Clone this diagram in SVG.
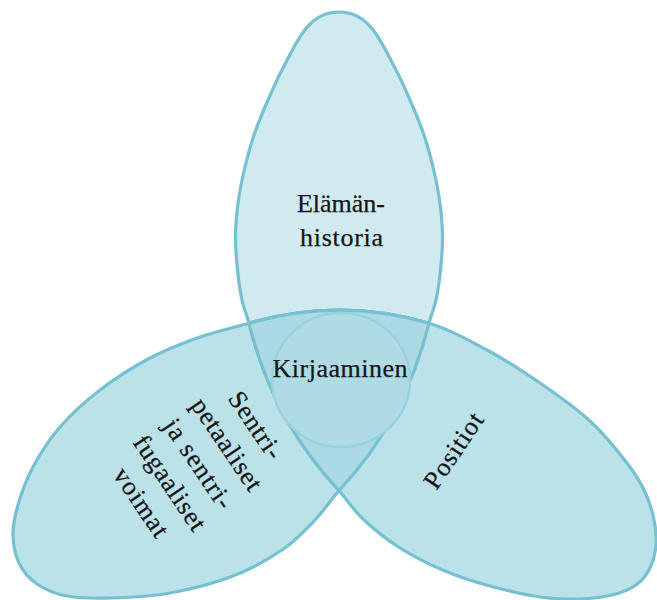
<svg xmlns="http://www.w3.org/2000/svg" width="657" height="600" viewBox="0 0 657 600">
  <style>
    .lobe { stroke: #76c0d2; stroke-width: 3.2; stroke-linejoin: round; }
    .top { fill: #d0eaf0; }
    .low { fill: #bbe1e9; }
    .core { fill: #abd9e4; stroke: #76c0d2; stroke-width: 3.2; stroke-linejoin: round; }
    .hub { fill: #afdbe5; stroke: #9ad1de; stroke-width: 2.4; }
    .lbl { font-family: "Liberation Serif", "Times New Roman", serif; font-size: 26px; fill: #141414; stroke: #141414; stroke-width: 0.25; text-anchor: middle; }
  </style>

  <rect x="0" y="0" width="657" height="600" fill="#ffffff"/>

  <!-- Three lobes sharing the corners (249,323.2) (429,323.2) (339,490.6);
       between the corners each lobe follows the same elliptical arcs. -->
  <g id="elamanhistoria">
    <path class="lobe top" d="M 429,323.2 C 430.9,315.3 434.1,308.9 436,300 C 437.9,291.1 439.4,280.8 440.5,270 C 441.6,259.2 442.7,246.7 442.5,235 C 442.3,223.3 441.1,211.3 439.5,200 C 437.9,188.7 435.6,177.8 433,167 C 430.4,156.2 427.8,146.2 424,135 C 420.2,123.8 414.7,110.8 410,100 C 405.3,89.2 400.7,78.7 396,70 C 381.75,43.6 371,12 339,12 C 307,12 296.25,43.6 282,70 C 277.3,78.7 272.7,89.2 268,100 C 263.3,110.8 257.8,123.8 254,135 C 250.2,146.2 247.6,156.2 245,167 C 242.4,177.8 240.1,188.7 238.5,200 C 236.9,211.3 235.7,223.3 235.5,235 C 235.3,246.7 236.4,259.2 237.5,270 C 238.6,280.8 240.1,291.1 242,300 C 243.9,308.9 247.1,315.3 249,323.2 A 343 368 0 0 0 339,490.6 A 343 368 0 0 0 429,323.2 Z"/>
  </g>

  <g id="voimat">
    <path class="lobe low" d="M 249,323.2 C 232.7,327.9 216.5,331.2 200,337 C 183.5,342.8 166.7,349.2 150,358 C 133.3,366.8 115,378.5 100,390 C 85,401.5 71.2,414.2 60,427 C 48.8,439.8 40,454 33,467 C 26,480 21.3,493.7 18,505 C 14.7,516.3 12.8,525.3 13,535 C 13.2,544.7 15,554.8 19,563 C 23,571.2 29,578.5 37,584 C 45,589.5 54.5,593.7 67,596 C 79.5,598.3 94.8,598.5 112,598 C 129.2,597.5 149.8,596.7 170,593 C 190.2,589.3 214.3,583.2 233,576 C 251.7,568.8 268.3,559.3 282,550 C 295.7,540.7 305.5,529.9 315,520 C 324.5,510.1 330.5,500 339,490.6 A 343 368 0 0 0 429,323.2 A 343 368 0 0 0 249,323.2 Z"/>
  </g>

  <g id="positiot">
    <path class="lobe low" d="M 339,490.6 C 347.3,499.8 352.8,509.4 363,519 C 373.2,528.6 386.3,539.3 400,548 C 413.7,556.7 430,564.7 445,571 C 460,577.3 474.2,581.7 490,586 C 505.8,590.3 525.5,594.8 540,597 C 554.5,599.2 565,599.3 577,599 C 589,598.7 602.2,597.3 612,595 C 621.8,592.7 629.7,589.5 636,585 C 642.3,580.5 646.7,574.7 650,568 C 653.3,561.3 655.3,553 656,545 C 656.7,537 655.8,528.8 654,520 C 652.2,511.2 649.5,501.5 645,492 C 640.5,482.5 636.2,474.8 627,463 C 617.8,451.2 604.5,434.3 590,421 C 575.5,407.7 557.2,394.8 540,383 C 522.8,371.2 505.5,360 487,350 C 468.5,340 449.5,329.1 429,323.2 A 343 368 0 0 0 249,323.2 A 343 368 0 0 0 339,490.6 Z"/>
  </g>

  <!-- region common to all three lobes -->
  <g id="overlap">
    <path class="core" d="M 249,323.2 A 343 368 0 0 0 339,490.6 A 343 368 0 0 0 429,323.2 A 343 368 0 0 0 249,323.2 Z"/>
  </g>

  <g id="kirjaaminen">
    <ellipse class="hub" cx="341" cy="380" rx="69" ry="67"/>
    <text class="lbl" x="340" y="377" textLength="135">Kirjaaminen</text>
  </g>

  <g id="labels">
    <text class="lbl" x="341" y="212" textLength="88">Elämän-</text>
    <text class="lbl" x="341.5" y="246" textLength="83">historia</text>

    <text class="lbl" transform="translate(454,451) rotate(-56)" x="0" y="8" textLength="86">Positiot</text>

    <g transform="translate(198,464) rotate(56)">
      <text class="lbl" x="0" y="-61" textLength="76">Sentri-</text>
      <text class="lbl" x="0" y="-26.5" textLength="106">petaaliset</text>
      <text class="lbl" x="0" y="8" textLength="103">ja sentri-</text>
      <text class="lbl" x="0" y="42.5" textLength="109">fugaaliset</text>
      <text class="lbl" x="0" y="77" textLength="78">voimat</text>
    </g>
  </g>
</svg>
